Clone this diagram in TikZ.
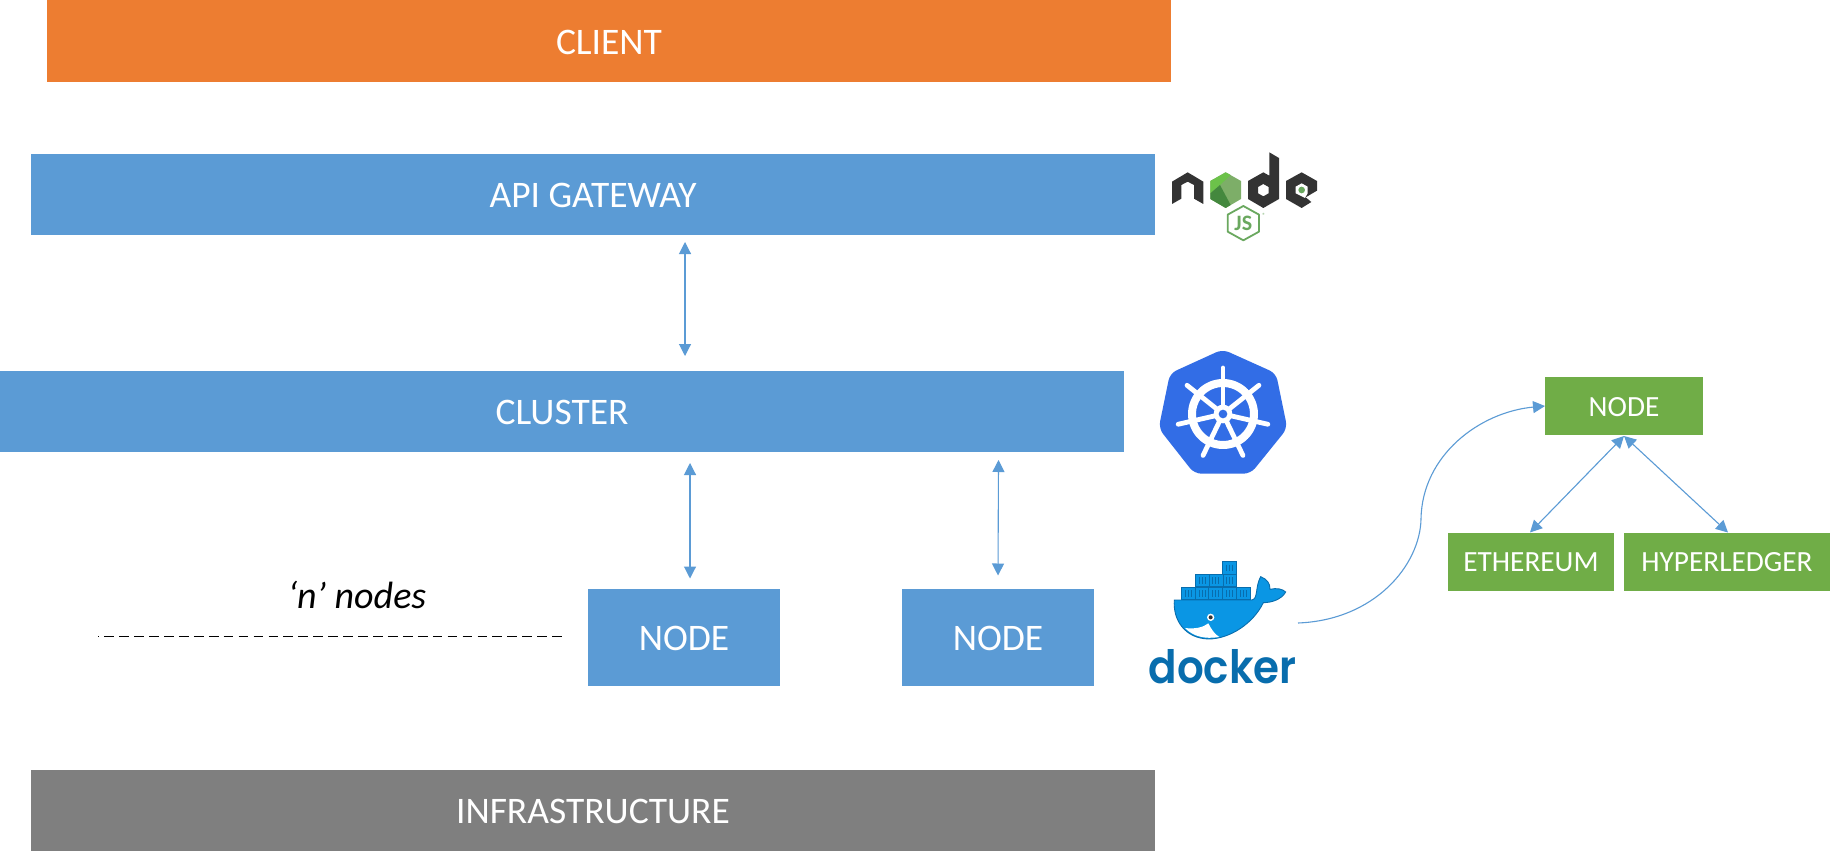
\documentclass[tikz,border=0pt]{standalone}
\usepackage{fontspec}
\setmainfont{Carlito}
\newfontfamily\logofont{Poppins SemiBold}
\usetikzlibrary{arrows.meta}
\definecolor{cblue}{HTML}{5B9BD5}
\definecolor{corange}{HTML}{ED7D31}
\definecolor{cgrey}{HTML}{7F7F7F}
\definecolor{cgreen}{HTML}{70AD47}
\definecolor{ndark}{HTML}{333333}
\definecolor{ngreen}{HTML}{6AA85F}
\definecolor{nlight}{HTML}{6CC24A}
\definecolor{nmid}{HTML}{7DAE68}
\definecolor{nlow}{HTML}{44883E}
\definecolor{kblue}{HTML}{326DE6}
\definecolor{dblue}{HTML}{0A96E4}
\definecolor{ddark}{HTML}{086DAD}
\tikzset{
  box/.style={draw=none,inner sep=0pt,outer sep=0pt,text=white,font=\fontsize{37.5}{38}\selectfont,text height=26.3pt,text depth=0pt},
  bar/.style={box,minimum width=1124pt,minimum height=81pt},
  bluebar/.style={bar,fill=cblue},
  nodebox/.style={box,fill=cblue,minimum width=192pt,minimum height=97pt},
  greenbox/.style={box,fill=cgreen,minimum height=58pt,font=\fontsize{29.3}{30}\selectfont,text height=20pt},
  bi/.style={draw=cblue,line width=1.1pt,{Triangle[length=12pt,width=12pt]}-{Triangle[length=12pt,width=12pt]}},
  one/.style={draw=cblue,line width=1.1pt,-{Triangle[length=12pt,width=12pt]}},
  crate/.style={fill=dblue,draw=ddark,line width=0.8pt},
  spoke/.style={draw=white,line width=4.8pt,line cap=round},
}
\begin{document}
\begin{tikzpicture}[x=1pt,y=-1pt]
\useasboundingbox[fill=white] (0,0) rectangle (1830,856);
% bars
\node[bar,fill=corange,minimum height=82pt,yshift=-1pt] (client) at (609,40) {CLIENT};
\node[bluebar] (api) at (593,194.5) {API GATEWAY};
\node[bluebar] (cluster) at (562,411.5) {CLUSTER};
\node[nodebox] (nodea) at (684,637) {NODE};
\node[nodebox] (nodeb) at (998,637) {NODE};
\node[bar,fill=cgrey] (infra) at (593,810) {INFRASTRUCTURE};
% green
\node[greenbox,minimum width=158pt] (gnode) at (1624,406) {NODE};
\node[greenbox,minimum width=166pt] (eth) at (1531,561.5) {ETHEREUM};
\node[greenbox,minimum width=206pt] (hyp) at (1727,561.5) {HYPERLEDGER};
% text
\node[inner sep=0pt,font=\fontsize{38}{38}\selectfont\itshape] (nlabel) at (357,595) {‘n’ nodes};
% connectors
\draw[bi] ([xshift=92pt,yshift=-7pt]api.south) -- ([xshift=123pt,yshift=15pt]cluster.north);
\draw[bi] ([xshift=128pt,yshift=-11pt]cluster.south) -- ([xshift=6pt,yshift=10pt]nodea.north);
\draw[bi] ([xshift=436.5pt,yshift=-8pt]cluster.south) -- ([yshift=13pt]nodeb.north);
\coordinate (dashl) at (98,636.7);
\coordinate (dashr) at (562,636.7);
\draw[black,line width=1.2pt,dash pattern=on 9.73pt off 5.2pt,dash phase=8.63pt] (dashl) -- (dashr);
\draw[bi] ([yshift=-1pt]gnode.south) -- ([xshift=-1pt]eth.north);
\draw[bi] ([yshift=-1pt]gnode.south) -- ([xshift=1pt]hyp.north);
\coordinate (wfrom) at (1298,623);
\coordinate (wmid) at (1421,519);
\draw[one] (wfrom) .. controls (1375,620) and (1420,565) .. (wmid) .. controls (1422,455) and (1480,412) .. (gnode.west);
% node.js logo
\begin{scope}[shift={(1140,130)},x=0.3333pt,y=-0.3333pt]
\fill[ndark] (96,155)--(143,127)--(190,155)--(190,222)--(162,206)--(162,165)--(143,155)--(124,165)--(124,206)--(96,222)--cycle;
\fill[nmid] (257,127)--(303,153)--(303,207)--(257,234)--(211,207)--(211,153)--cycle;
\fill[nlight] (257,127)--(211,153)--(211,190)--(240,165)--(272,135)--cycle;
\fill[nlow] (211,190)--(240,165)--(272,225)--(257,234)--(211,207)--cycle;
\fill[ndark,even odd rule] (388,67)--(417,84)--(417,207)--(370,234)--(324,207)--(324,153)--(370,127)--(388,137)--cycle
  (370,162)--(386,171)--(386,190)--(370,199)--(354,190)--(354,171)--cycle;
\fill[ndark] (438,153)--(485,127)--(531,153)--(531,182)--(497,202)--(514,216)--(485,234)--(438,207)--cycle;
\fill[white] (485,160)--(503,170)--(503,190)--(495,204)--(467,190)--(467,170)--cycle;
\fill[ngreen] (485,180) circle (10);
\draw[ngreen,line width=1.8pt,line join=round] (310,228)--(357,254)--(357,305)--(310,331)--(263,305)--(263,254)--cycle;
\node[inner sep=0pt,text=ngreen,font=\fontsize{22}{22}\selectfont\bfseries] (js) at (310,280) {JS};
\node[inner sep=0pt,text=ngreen,font=\fontsize{6}{6}\selectfont] (reg) at (372,255) {®};
\end{scope}
% kubernetes logo
\begin{scope}[shift={(1140,340)},x=0.3333pt,y=-0.3333pt]
\fill[kblue,rounded corners=7pt] (248,28)--(408,100)--(442,265)--(332,401)--(163,401)--(56,265)--(90,100)--cycle;
\draw[white,line width=8pt] (249,222) circle (93);
\foreach \a in {90,38.6,-12.9,-64.3,-115.7,-167.1,141.4}{
  \draw[spoke] (249,222) -- ++(\a:-138);
}
\fill[white] (249,222) circle (28);
\fill[kblue] (249,222) circle (13);
\end{scope}
% docker logo
\begin{scope}[shift={(1130,540)},x=0.3333pt,y=-0.3333pt]
\foreach \cx/\cy in {277/65,277/103,236/103,195/103,153/142,195/142,236/142,277/142,319/142}{
  \draw[crate] (\cx,\cy) rectangle ++(43,37);
  \draw[ddark,line width=0.6pt] (\cx+12,\cy+9) -- ++(0,19) (\cx+21,\cy+9) -- ++(0,19) (\cx+30,\cy+9) -- ++(0,19);
}
\draw[fill=dblue,draw=ddark,line width=0.9pt] (133,180) -- (365,180)
  .. controls (385,178) and (375,140) .. (392,110)
  .. controls (412,118) and (420,130) .. (420,148)
  .. controls (440,143) and (458,147) .. (467,156)
  .. controls (455,178) and (425,188) .. (400,188)
  .. controls (370,250) and (300,297) .. (235,297)
  .. controls (165,295) and (128,240) .. (133,180) -- cycle;
\fill[white] (165,264) .. controls (195,268) and (220,262) .. (235,250) .. controls (245,270) and (255,283) .. (268,291) .. controls (225,298) and (190,290) .. (165,264) -- cycle;
\fill[white] (242,232) circle (11);
\fill[ndark] (242,232) circle (6);
\node[inner sep=0pt,anchor=south west,text=ddark] (dockertext) at (55,431) {\resizebox{148pt}{34pt}{\logofont docker}};
\end{scope}
\end{tikzpicture}
\end{document}
